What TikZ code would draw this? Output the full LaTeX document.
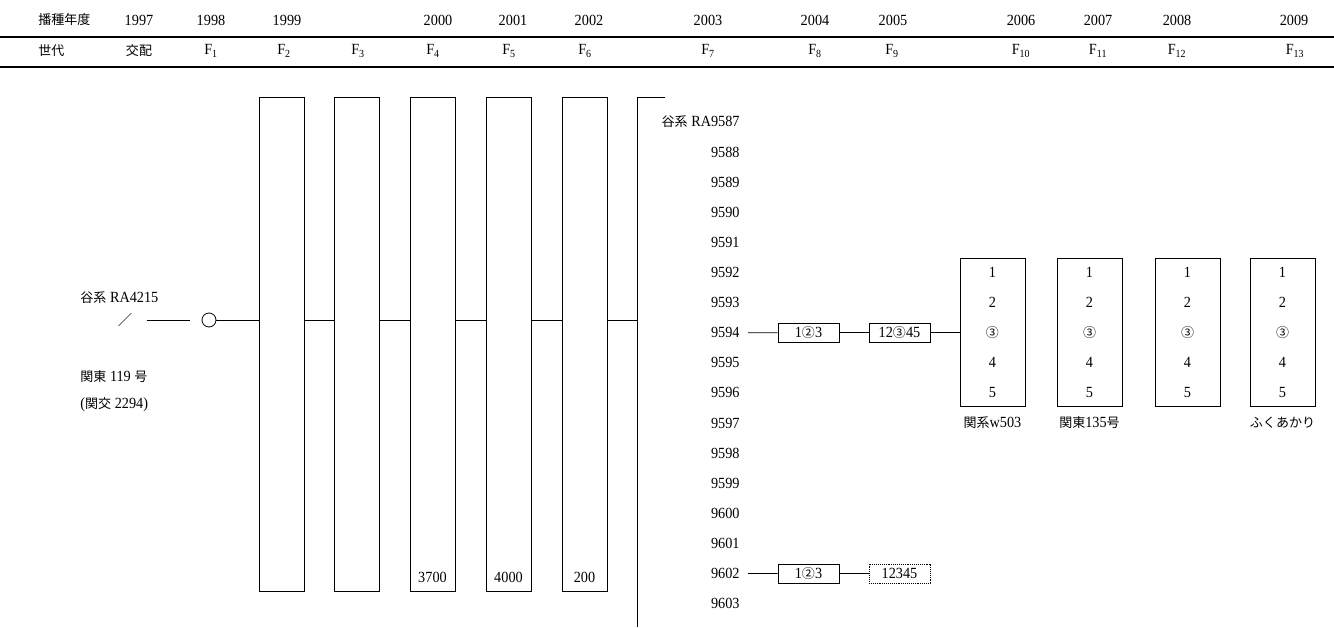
\documentclass[tikz,border=0pt]{standalone}
\usepackage{fontspec}
\setmainfont{Liberation Serif}[FakeStretch=0.92]
\newfontfamily\jp[Scale=0.84]{Noto Sans CJK JP}
\newcommand{\Fg}[1]{F\textsubscript{#1}}
\begin{document}
\begin{tikzpicture}[x=1pt,y=-1pt,line width=0.8pt,
  txt/.style={inner sep=0pt,font=\fontsize{15.5}{17}\selectfont},
  tall/.style={draw,line width=0.9pt,minimum width=45pt,minimum height=494pt,inner sep=0pt},
  small/.style={draw,line width=0.9pt,minimum width=61pt,minimum height=19pt,inner sep=0pt,font=\fontsize{15.5}{17}\selectfont},
  big/.style={draw,line width=0.9pt,minimum width=65pt,minimum height=148pt,inner sep=0pt},
  rule/.style={line width=1.3pt}]
\useasboundingbox (0,0) rectangle (1334,627);
% header
\coordinate (hl1) at (0,37); \coordinate (hr1) at (1334,37);
\coordinate (hl2) at (0,67); \coordinate (hr2) at (1334,67);
\draw[rule] (hl1) -- (hr1);
\draw[rule] (hl2) -- (hr2);
\node[txt,anchor=west] (y0) at (38,20) {\jp 播種年度};
\node[txt,anchor=west] (g0) at (38,51) {\jp 世代};
\foreach \x/\t [count=\i] in {139/1997,211/1998,287/1999,438/2000,513/2001,589/2002,708/2003,815/2004,893/2005,1021/2006,1098/2007,1177/2008,1294/2009}
  \node[txt] (y\i) at (\x,20) {\t};
\node[txt] (g1) at (139,51) {\jp 交配};
\foreach \x/\t [count=\i from 2] in {211/1,284/2,358/3,433/4,509/5,585/6,708/7,815/8,892/9,1021/10,1098/11,1177/12,1295/13}
  \node[txt] (g\i) at (\x,51) {\Fg{\t}};
% left cross
\node[txt,anchor=west] (pa) at (80,298) {{\jp 谷系} RA4215};
\node[txt,anchor=west] (pb) at (80,377) {{\jp 関東} 119 {\jp 号}};
\node[txt,anchor=west] (pc) at (80,405) {({\jp 関交} 2294)};
\coordinate (mid) at (0,320);
\node[inner sep=0pt,font=\fontsize{17}{18}\selectfont\jp] (sl) at (125,320) {／};
\node[draw,circle,minimum size=14pt,inner sep=0pt,line width=0.8pt] (cr) at (209,320) {};
% tall boxes
\foreach \x [count=\i from 2] in {281.5,356.5,432.5,508.5,584.5}
  \node[tall] (b\i) at (\x,344) {};
\node[txt] (n4) at (432.5,577) {3700};
\node[txt] (n5) at (508.5,577) {4000};
\node[txt] (n6) at (584.5,577) {200};
\draw[shorten <=14pt,shorten >=12pt] (sl) -- (cr);
\draw (cr) -- (cr -| b2.west);
\draw (b2.east |- mid) -- (b3.west |- mid);
\draw (b3.east |- mid) -- (b4.west |- mid);
\draw (b4.east |- mid) -- (b5.west |- mid);
\draw (b5.east |- mid) -- (b6.west |- mid);
\coordinate (vt) at (637,97); \coordinate (vb) at (637,627); \coordinate (vtr) at (665,97);
\draw (b6.east |- mid) -- (vt |- mid);
\draw (vt) -- (vb);
\draw (vt) -- (vtr);
% F7 lines
\node[txt,anchor=east] (L0) at (740,122) {{\jp 谷系} RA9587};
\foreach \k in {1,...,16}{
  \pgfmathtruncatemacro{\n}{9587+\k}
  \node[txt,anchor=east] (L\k) at (740,122+30.1*\k) {\n};
}
% right boxes
\foreach \x [count=\i] in {992.5,1089.5,1187.5,1282.5}{
  \node[big] (R\i) at (\x,332) {};
  \node[txt] (R\i a) at (\x,272.5) {1};
  \node[txt] (R\i b) at (\x,302.6) {2};
  \node[txt] (R\i c) at (\x,332.7) {\jp ③};
  \node[txt] (R\i d) at (\x,362.8) {4};
  \node[txt] (R\i e) at (\x,392.9) {5};
}
\node[txt] (c1) at (992.5,423) {{\jp 関系}w503};
\node[txt] (c2) at (1089.5,423) {{\jp 関東}135{\jp 号}};
\node[txt] (c4) at (1282.5,423) {\jp ふくあかり};
% F8/F9 boxes
\node[small] (s1) at (808.5,332.7) {1{\jp ②}3};
\node[small] (s2) at (899.5,332.7) {12{\jp ③}45};
\node[small] (t1) at (808.5,573.5) {1{\jp ②}3};
\node[small,densely dotted] (t2) at (899.5,573.5) {12345};
\draw[shorten <=8pt] (L7) -- (s1);
\draw (s1) -- (s2);
\draw (s2) -- (s2 -| R1.west);
\draw[shorten <=8pt] (L15) -- (t1);
\draw (t1) -- (t2);
\end{tikzpicture}
\end{document}
